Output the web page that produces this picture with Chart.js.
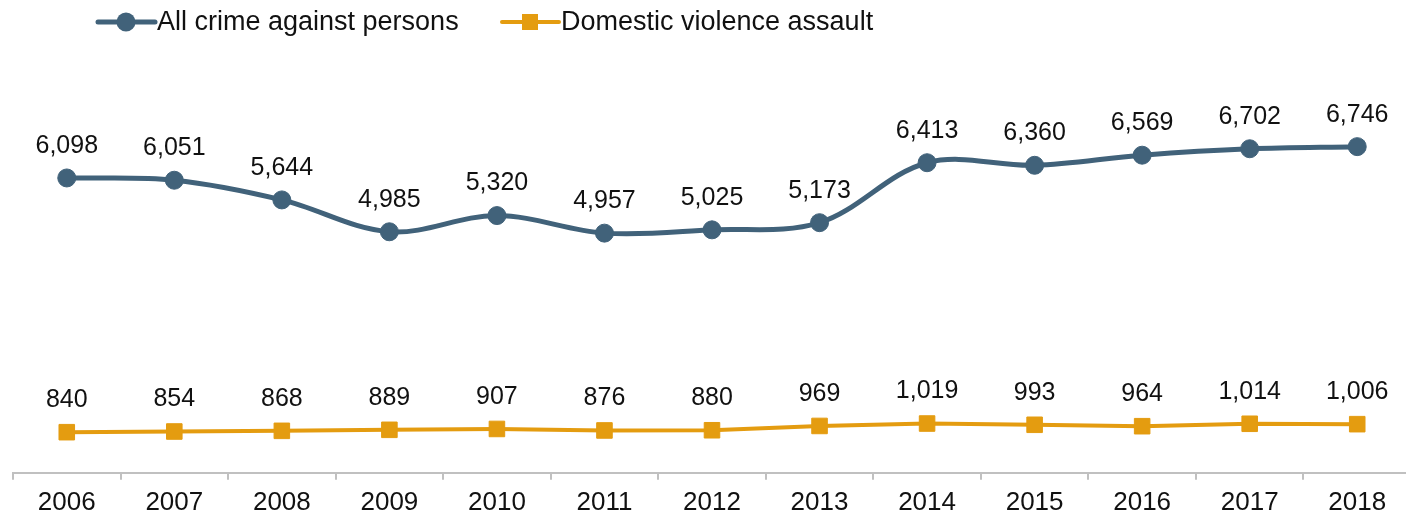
<!DOCTYPE html>
<html>
<head>
<meta charset="utf-8">
<script src="https://cdn.jsdelivr.net/npm/chart.js@4/dist/chart.umd.min.js"></script>
<style>
    html, body { margin: 0; padding: 0; background: #fff; overflow: hidden; }
    #wrap { position: relative; width: 1406px; height: 517px; overflow: hidden; }
    canvas { display: block; }
</style>
</head>
<body>
<div id="wrap"><canvas id="crimeChart" width="1423" height="525"></canvas></div>
<script>
// data
const years = ['2006', '2007', '2008', '2009', '2010', '2011', '2012', '2013', '2014', '2015', '2016', '2017', '2018'];
const allCrime = [6098, 6051, 5644, 4985, 5320, 4957, 5025, 5173, 6413, 6360, 6569, 6702, 6746];
const domesticViolence = [840, 854, 868, 889, 907, 876, 880, 969, 1019, 993, 964, 1014, 1006];

const BLUE = '#41627a';
const ORANGE = '#e49c10';
const FONT = '"Liberation Sans", Arial, sans-serif';

// value labels above each point
const valueLabels = {
    id: 'valueLabels',
    afterDatasetsDraw(chart) {
        const ctx = chart.ctx;
        ctx.save();
        ctx.font = '25px ' + FONT;
        ctx.fillStyle = '#111';
        ctx.textAlign = 'center';
        ctx.textBaseline = 'middle';
        chart.data.datasets.forEach((ds, i) => {
            const meta = chart.getDatasetMeta(i);
            meta.data.forEach((pt, j) => {
                ctx.fillText(ds.data[j].toLocaleString('en-US'), pt.x, pt.y - 32);
            });
        });
        ctx.restore();
    }
};

// legend drawn as line + marker like the original
const lineLegend = {
    id: 'lineLegend',
    afterDraw(chart) {
        const ctx = chart.ctx;
        const items = [
            { x: 98, ds: chart.data.datasets[0] },
            { x: 502, ds: chart.data.datasets[1] }
        ];
        const y = 22;
        ctx.save();
        ctx.font = '27px ' + FONT;
        ctx.textBaseline = 'middle';
        ctx.textAlign = 'left';
        items.forEach(it => {
            const ds = it.ds;
            ctx.strokeStyle = ds.borderColor;
            ctx.lineWidth = ds.borderWidth;
            ctx.lineCap = 'round';
            ctx.beginPath();
            ctx.moveTo(it.x, y);
            ctx.lineTo(it.x + 57, y);
            ctx.stroke();
            ctx.fillStyle = ds.borderColor;
            if (ds.pointStyle === 'rect') {
                ctx.fillRect(it.x + 20, y - 8, 16, 16);
            } else {
                ctx.beginPath();
                ctx.arc(it.x + 28, y, 9.5, 0, Math.PI * 2);
                ctx.fill();
            }
            ctx.fillStyle = '#111';
            ctx.fillText(ds.label, it.x + 59, y + 1);
        });
        ctx.restore();
    }
};

const ctx = document.getElementById('crimeChart').getContext('2d');
new Chart(ctx, {
    type: 'line',
    data: {
        labels: years,
        datasets: [{
            label: 'All crime against persons',
            data: allCrime,
            borderColor: BLUE,
            backgroundColor: BLUE,
            borderWidth: 5,
            pointStyle: 'circle',
            pointRadius: 9,
            pointBorderWidth: 1,
            pointBackgroundColor: BLUE,
            tension: 0.35
        }, {
            label: 'Domestic violence assault',
            data: domesticViolence,
            borderColor: ORANGE,
            backgroundColor: ORANGE,
            borderWidth: 4,
            pointStyle: 'rect',
            pointRadius: 11,
            pointBorderWidth: 1,
            pointBackgroundColor: ORANGE,
            tension: 0
        }]
    },
    options: {
        responsive: false,
        devicePixelRatio: 1,
        animation: false,
        layout: { padding: { top: 86, left: 13, right: 0, bottom: 0 } },
        scales: {
            x: {
                offset: true,
                grid: {
                    offset: true,
                    drawOnChartArea: false,
                    drawTicks: true,
                    tickLength: 7,
                    color: '#c0c0c0',
                    lineWidth: 2
                },
                border: { display: true, color: '#c0c0c0', width: 2 },
                ticks: {
                    color: '#111',
                    font: { family: FONT, size: 26 },
                    padding: 7,
                    autoSkip: false,
                    maxRotation: 0
                }
            },
            y: {
                display: false,
                min: 0,
                max: 8000
            }
        },
        plugins: {
            legend: { display: false },
            tooltip: { enabled: false }
        }
    },
    plugins: [valueLabels, lineLegend]
});
</script>
</body>
</html>
